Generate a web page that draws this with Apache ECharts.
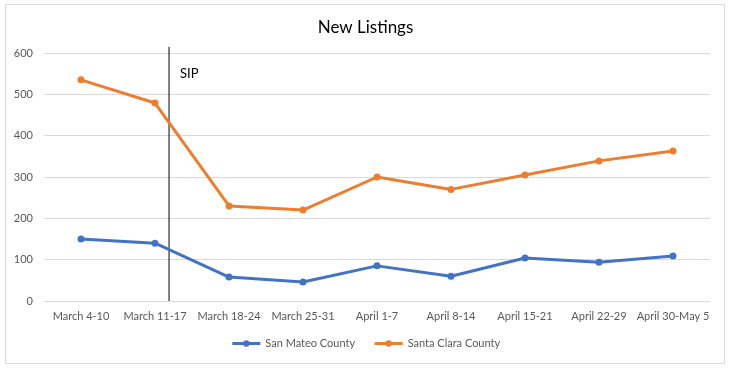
<!DOCTYPE html>
<html><head><meta charset="utf-8">
<script src="https://cdn.jsdelivr.net/npm/echarts@6/dist/echarts.min.js"></script>
<style>html,body{margin:0;padding:0;background:#fff}#c{width:731px;height:368px}</style>
</head><body><div id="c"></div>
<script>
const categories = ["March 4-10","March 11-17","March 18-24","March 25-31","April 1-7","April 8-14","April 15-21","April 22-29","April 30-May 5"];
const sanMateo = [150, 140, 58, 46, 85, 60, 104, 94, 109];
const santaClara = [535, 479, 230, 220, 300, 270, 305, 339, 363];
const yTicks = [0, 100, 200, 300, 400, 500, 600];
const sipPosition = 1.19; // between March 11-17 and March 18-24
const sipLine = [[sipPosition, 0], [sipPosition, 615]];
const FONT = "Lato";
const chart = echarts.init(document.getElementById('c'), null, {renderer:'canvas'});
chart.setOption({
  animation:false,
  textStyle:{fontFamily:FONT},
  title:{text:"New Listings", left:'center', top:14, textStyle:{fontFamily:FONT, fontSize:17, fontWeight:'normal', color:'#000'}},
  grid:{left:44, right:21, top:53, bottom:67},
  legend:{bottom:14, left:'center', itemWidth:28, itemHeight:8, itemGap:18,
    lineStyle:{width:3},
    textStyle:{fontFamily:FONT, fontSize:11, color:'#595959'},
    data:["San Mateo County","Santa Clara County"]},
  xAxis:[{type:'category', data:categories, boundaryGap:true,
    axisLine:{lineStyle:{color:'#d9d9d9'}}, axisTick:{show:false},
    axisLabel:{color:'#595959', fontSize:11, margin:10, interval:0}},
   {type:'value', min:-0.5, max:categories.length-0.5, show:false}],
  yAxis:{type:'value', min:yTicks[0], max:yTicks[yTicks.length-1], interval:100,
    axisLine:{show:false}, axisTick:{show:false},
    axisLabel:{color:'#595959', fontSize:11, margin:11},
    splitLine:{lineStyle:{color:'#d9d9d9'}}},
  series:[
    {name:"SIP", type:'line', xAxisIndex:1, data:sipLine, silent:true, z:1,
     symbol:'none', lineStyle:{color:'#000', width:1}, clip:false},
    {name:"San Mateo County", type:'line', data:sanMateo, color:'#4472C4', z:3,
     symbol:'circle', symbolSize:7, lineStyle:{width:3}},
    {name:"Santa Clara County", type:'line', data:santaClara, color:'#ED7D31', z:3,
     symbol:'circle', symbolSize:7, lineStyle:{width:3}}
  ],
  graphic:[
    {type:'rect', shape:{x:5.5,y:4.5,width:719,height:359}, style:{fill:null, stroke:'#d9d9d9', lineWidth:1}, silent:true},
    {type:'text', left:180, top:67, style:{text:'SIP', font:'13px '+FONT, fill:'#000'}}
  ]
});
</script></body></html>
